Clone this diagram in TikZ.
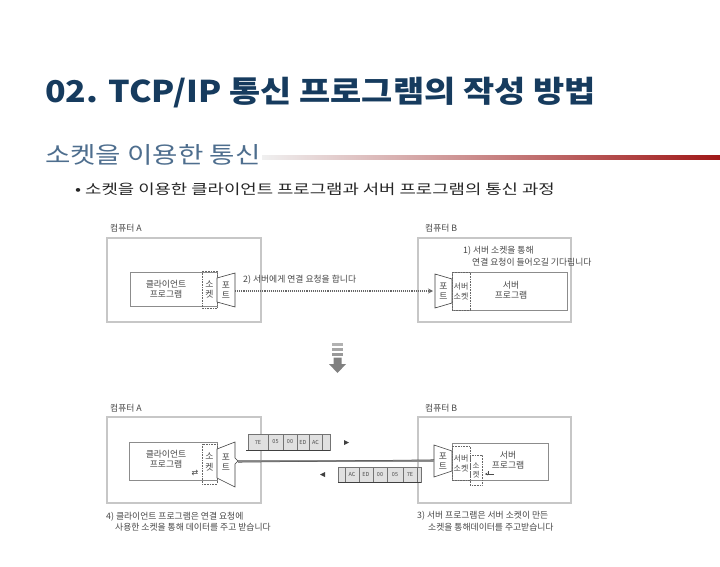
\documentclass[tikz,border=0pt]{standalone}
\usepackage{fontspec}
\setmainfont{Noto Sans CJK KR}
\newfontfamily\symfont{DejaVu Sans}
\usetikzlibrary{arrows.meta,shapes.geometric}
\definecolor{titlec}{HTML}{163B5E}
\definecolor{subc}{HTML}{4E6E8E}
\definecolor{redc}{HTML}{A01818}
\begin{document}
\begin{tikzpicture}[x=1pt,y=-1pt,
  dtext/.style={font=\fontsize{8.8}{10.2}\selectfont, text=black!72, inner sep=0pt, align=center},
  pcbox/.style={draw=black!22, line width=2.4pt},
  prog/.style={draw=black!45, line width=0.5pt, fill=white},
  sockbox/.style={draw=black!60, densely dotted, line width=0.6pt},
  portshape/.style={draw=black!75, line width=0.6pt, fill=white},
  cellbox/.style={draw=black!55, line width=0.4pt, fill=black!12},
  celltext/.style={font=\fontsize{5.5}{6}\selectfont, text=black!70, inner sep=0pt},
  cable/.style={draw=black!45, line width=2.4pt},
  reqarrow/.style={draw=black!60, densely dotted, line width=1.1pt, -{Stealth[length=5pt,width=5pt,open]}},
]
\useasboundingbox[fill=white] (0,0) rectangle (720,567);

% ---------- headings ----------
\node[anchor=west, inner sep=0pt, text=titlec, font=\fontsize{30}{33}\selectfont\bfseries] (title) at (45,93)
  {\scalebox{1.13}[1]{02. TCP/IP 통신 프로그램의 작성 방법}};
\node[anchor=west, inner sep=0pt, text=subc, font=\fontsize{23}{26}\selectfont] (sub) at (45,155)
  {\scalebox{1.2}[1]{소켓을 이용한 통신}};
\shade[left color=black!6, right color=redc] (262,155.5) rectangle (720,159.5);
\node[anchor=west, inner sep=0pt, text=black!85, font=\fontsize{14}{16}\selectfont] (bul) at (75,189)
  {\scalebox{1.27}[1]{• 소켓을 이용한 클라이언트 프로그램과 서버 프로그램의 통신 과정}};

% ================= TOP DIAGRAM =================
\node[dtext, anchor=west] (lA1) at (110,228) {컴퓨터 A};
\node[dtext, anchor=west] (lB1) at (425,228) {컴퓨터 B};
\draw[pcbox] (107,238) rectangle (261,322);
\draw[pcbox] (418,238) rectangle (571,322);

% client
\draw[prog] (130,272) rectangle (217,306);
\node[dtext] (cli1) at (166,289) {클라이언트\\프로그램};
\draw[sockbox] (202,271) rectangle (217,308);
\node[dtext] (sA1) at (209.5,289.5) {소\\켓};
\draw[portshape] (217,278) -- (235,273) -- (235,307) -- (217,302) -- cycle;
\node[dtext] (pA1) at (226,290) {포\\트};
\coordinate (pA1e) at (235,291);

% server
\draw[prog] (452,272) rectangle (567,310);
\draw[sockbox] (452,272) rectangle (470,310);
\node[dtext, font=\fontsize{8}{10}\selectfont] (sB1) at (461,291) {서버\\소켓};
\draw[portshape] (435,274) -- (452,279) -- (452,303) -- (435,308) -- cycle;
\node[dtext] (pB1) at (443.5,291) {포\\트};
\coordinate (pB1w) at (433,291);
\node[dtext] (srv1) at (511,290) {서버\\프로그램};

\draw[reqarrow] (pA1e) -- (pB1w);
\node[dtext, anchor=west] (req) at (243,280) {2) 서버에게 연결 요청을 합니다};
\node[dtext, anchor=west] (w1) at (463,251) {1) 서버 소켓을 통해};
\node[dtext, anchor=west] (w2) at (472,262) {연결 요청이 들어오길 기다립니다};

% ================= MIDDLE ARROW =================
\fill[black!30] (332,343) rectangle (343,345.5);
\fill[black!35] (332,348) rectangle (343,350.5);
\fill[black!40] (332,353) rectangle (343,355.5);
\fill[black!50] (333.5,357.5) -- (341.5,357.5) -- (341.5,364) -- (346,364) -- (337.5,373) -- (329,364) -- (333.5,364) -- cycle;

% ================= BOTTOM DIAGRAM =================
\node[dtext, anchor=west] (lA2) at (110,408) {컴퓨터 A};
\node[dtext, anchor=west] (lB2) at (425,408) {컴퓨터 B};
\draw[pcbox] (107,417) rectangle (261,503);
\draw[pcbox] (418,417) rectangle (571,503);

% client
\draw[prog] (129,442) rectangle (217,480);
\node[dtext] (cli2) at (166,459) {클라이언트\\프로그램};
\node[inner sep=0pt, text=black!75, font=\symfont\fontsize{8}{8}\selectfont] (xA2) at (195,473) {⇄};
\draw[sockbox] (202,444) rectangle (217,484);
\node[dtext] (sA2) at (209.5,462) {소\\켓};
\draw[portshape] (217,449) -- (235,442) -- (235,458) -- (238,461) -- (235,464) -- (235,487) -- (217,478) -- cycle;
\node[dtext] (pA2) at (226,462) {포\\트};
\coordinate (pA2e) at (238,461);

% server
\draw[prog] (452,443) rectangle (548,480);
\draw[sockbox] (452,446) rectangle (470,480);
\node[dtext, font=\fontsize{8}{10}\selectfont] (sB2) at (461,463) {서버\\소켓};
\draw[sockbox] (470,455) rectangle (482,485);
\node[dtext, font=\fontsize{7.5}{9}\selectfont] (sC2) at (476,470) {소\\켓};
\draw[portshape] (434,445) -- (452,451) -- (452,471) -- (434,477) -- cycle;
\node[dtext] (pB2) at (443,461) {포\\트};
\coordinate (pB2w) at (434,461);
\node[dtext] (srv2) at (508,460) {서버\\프로그램};
\draw[black!70, line width=0.6pt, -{Stealth[length=2.5pt,width=2.5pt]}] (494,474) -- (485,474);
\draw[black!70, line width=0.6pt] (488,471) -- (488,474);

% cable
\draw[cable] (pA2e) -- (pB2w);
\draw[black!70, line width=0.5pt] (pA2e) ++(0,1.3) -- ([yshift=1.3pt]pB2w);

% packet row 1 (to server)
\foreach \a/\b/\t [count=\i] in {248/268/7E, 268/283/05, 283/297/00, 297/309/ED, 309/322/AC, 322/330/{}} {
  \draw[cellbox] (\a,434) rectangle (\b,450);
  \node[celltext] (pk1-\i) at ({(\a+\b)/2},442) {\t};
}
\draw[black!75, line width=0.9pt] (246,450) -- (330,450);
\fill[black!75] (344,440) -- (349,442.5) -- (344,445) -- cycle;

% packet row 2 (to client)
\foreach \a/\b/\t [count=\i] in {338/345/{}, 345/359/AC, 359/373/ED, 373/387/00, 387/403/05, 403/417/7E, 417/421/{}} {
  \draw[cellbox] (\a,467) rectangle (\b,482);
  \node[celltext] (pk2-\i) at ({(\a+\b)/2},474.5) {\t};
}
\draw[black!75, line width=0.9pt] (338,482) -- (421,482);
\fill[black!75] (325,472) -- (320,474.5) -- (325,477) -- cycle;

% captions
\node[dtext, anchor=west] (c4a) at (106,517) {4) 클라이언트 프로그램은 연결 요청에};
\node[dtext, anchor=west] (c4b) at (115,527) {사용한 소켓을 통해 데이터를 주고 받습니다};
\node[dtext, anchor=west] (c3a) at (417,516) {3) 서버 프로그램은 서버 소켓이 만든};
\node[dtext, anchor=west] (c3b) at (428,527) {소켓을 통해데이터를 주고받습니다};
\end{tikzpicture}
\end{document}
